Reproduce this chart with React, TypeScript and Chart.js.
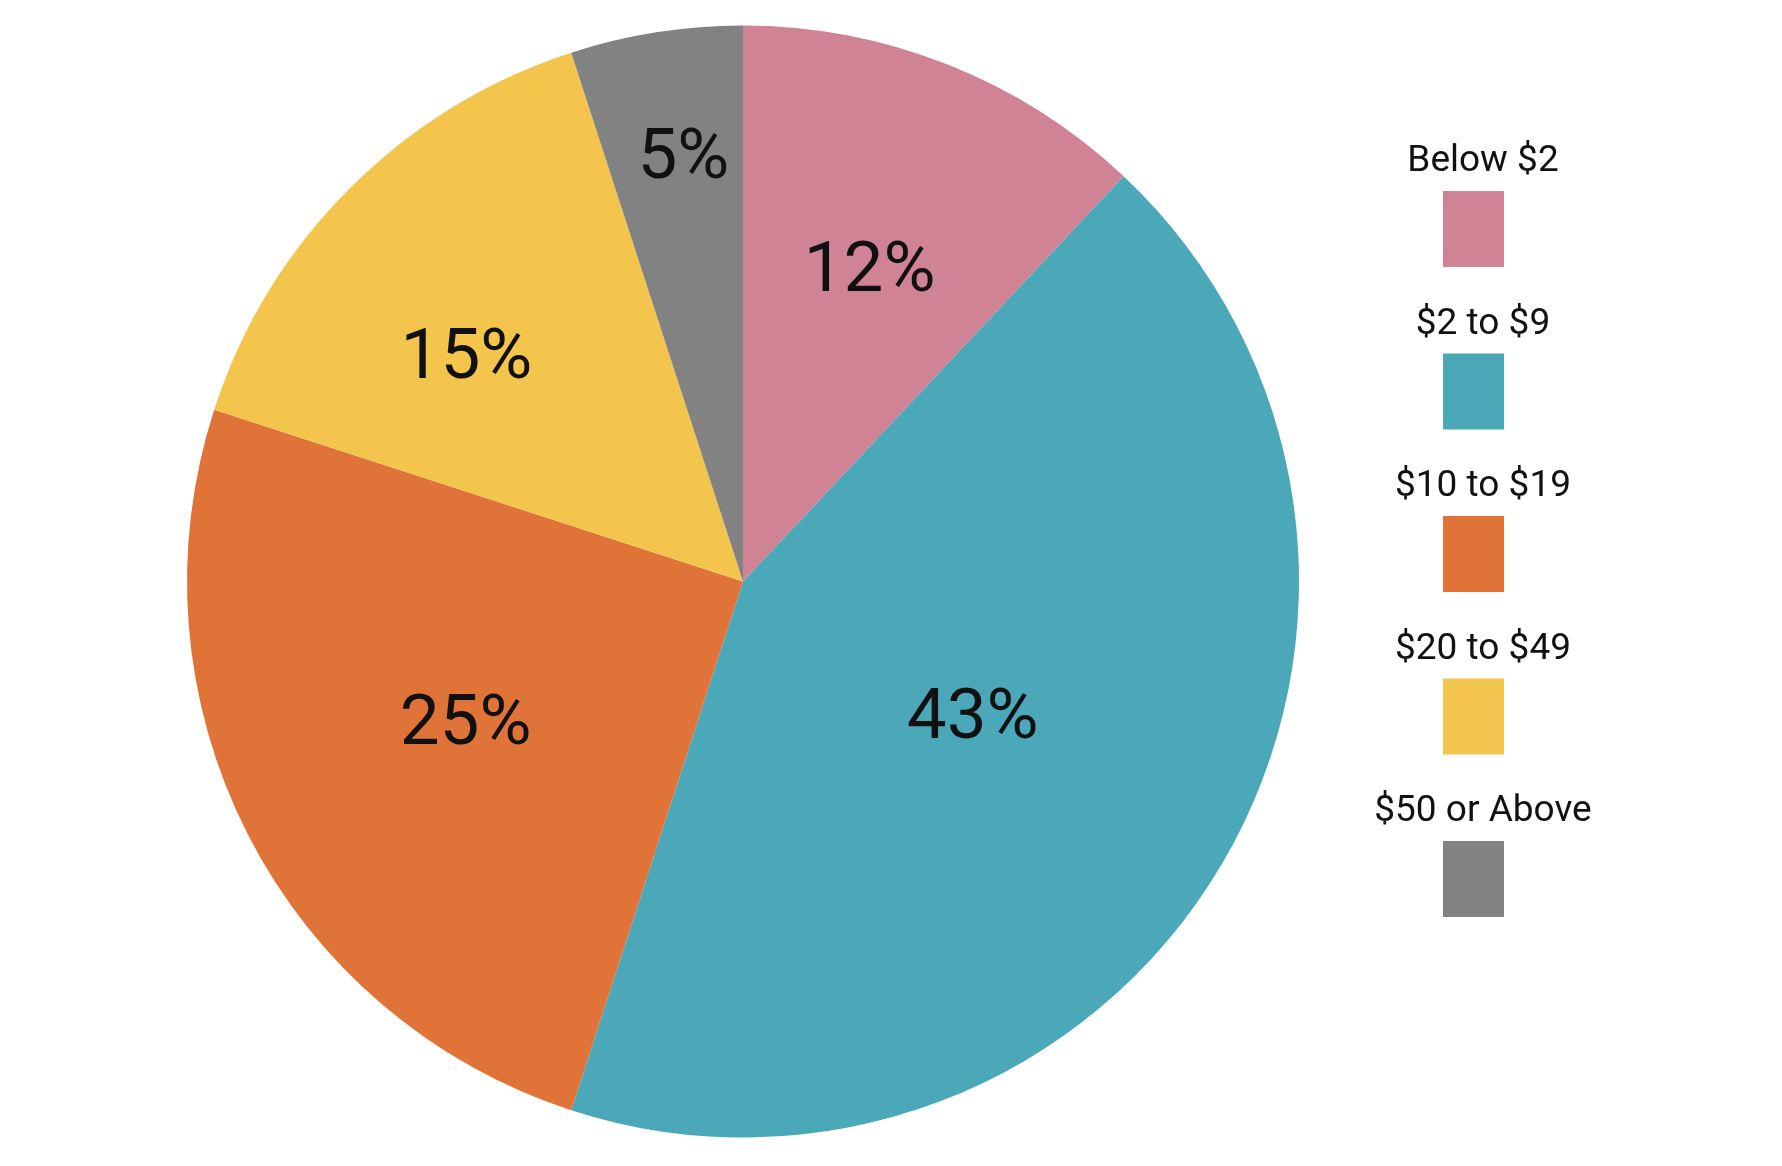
import React, { useEffect, useRef } from "react";
import { Chart, registerables } from "chart.js";

Chart.register(...registerables);

const categories = ["Below $2", "$2 to $9", "$10 to $19", "$20 to $49", "$50 or Above"];
const shares = [12, 43, 25, 15, 5];
const colors = ["#D18396", "#4AA8B8", "#E07338", "#F4C54D", "#828282"];
const labelRadius = [0.605, 0.48, 0.56, 0.64, 0.77];
const labelAngleShiftDeg = [0.5, 0, 0, -6, 1];

const FONT = "Roboto, 'DejaVu Sans', sans-serif";

const sliceLabels = {
  id: "sliceLabels",
  afterDatasetsDraw(chart: any) {
    const ctx = chart.ctx;
    const meta = chart.getDatasetMeta(0);
    ctx.save();
    ctx.fillStyle = "#111111";
    ctx.font = `400 71px ${FONT}`;
    ctx.textAlign = "center";
    ctx.textBaseline = "middle";
    meta.data.forEach((arc: any, i: number) => {
      const p = arc.getProps(["x", "y", "startAngle", "endAngle", "outerRadius"], true);
      const mid = (p.startAngle + p.endAngle) / 2 + (labelAngleShiftDeg[i] * Math.PI) / 180;
      const r = p.outerRadius * labelRadius[i];
      ctx.fillText(`${shares[i]}%`, p.x + Math.cos(mid) * r, p.y + Math.sin(mid) * r + 3);
    });
    ctx.restore();
  },
};

const sideLegend = {
  id: "sideLegend",
  afterDraw(chart: any) {
    const ctx = chart.ctx;
    const cx = 1478;
    const top = 162;
    const step = 162.5;
    ctx.save();
    ctx.textAlign = "center";
    ctx.textBaseline = "middle";
    ctx.font = `400 37px ${FONT}`;
    categories.forEach((c, i) => {
      const y = top + i * step;
      ctx.fillStyle = "#111111";
      ctx.fillText(c, cx + 5, y);
      ctx.fillStyle = colors[i];
      ctx.fillRect(cx - 35, y + 29, 61, 76);
    });
    ctx.restore();
  },
};

export default function App() {
  const ref = useRef<HTMLCanvasElement>(null);
  useEffect(() => {
    document.body.style.margin = "0";
    const chart = new Chart(ref.current!, {
      type: "pie",
      data: {
        labels: categories,
        datasets: [
          {
            data: shares,
            backgroundColor: colors,
            borderWidth: 0,
          },
        ],
      },
      options: {
        animation: false,
        responsive: false,
        layout: { padding: { top: 25, bottom: 28, left: 187, right: 483 } },
        plugins: { legend: { display: false }, tooltip: { enabled: false } },
      },
      plugins: [sliceLabels, sideLegend],
    });
    return () => chart.destroy();
  }, []);
  return (
    <div style={{ width: 1782, height: 1166, background: "#fff" }}>
      <canvas ref={ref} width={1782} height={1166} style={{ display: "block" }} />
    </div>
  );
}
